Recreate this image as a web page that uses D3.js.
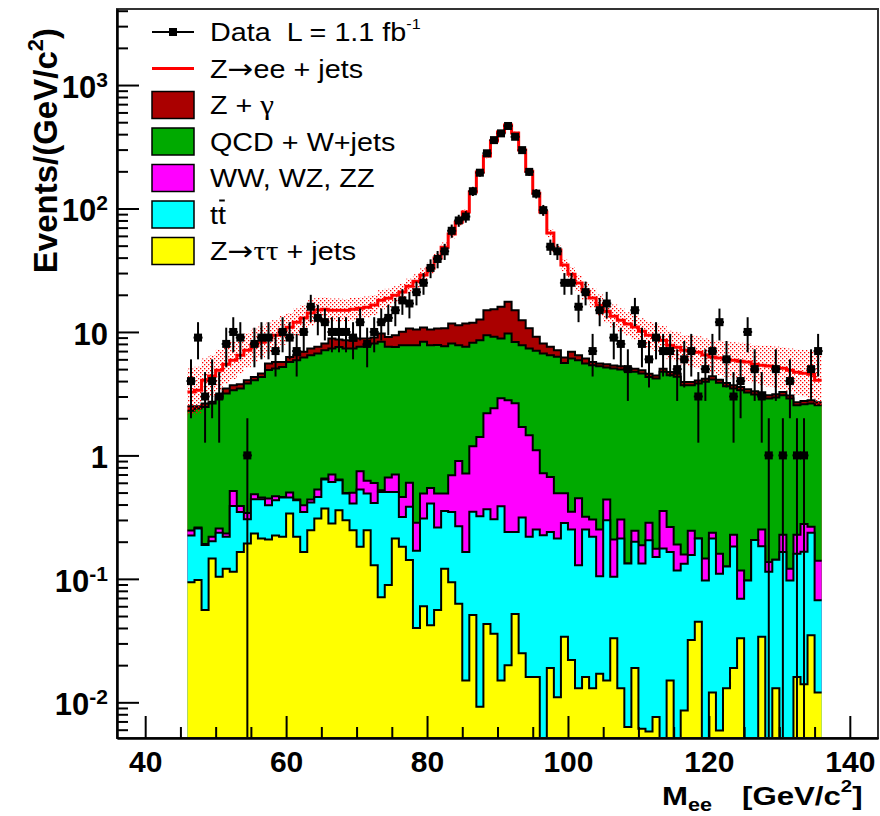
<!DOCTYPE html>
<html>
<head>
<meta charset="utf-8">
<title>Dielectron invariant mass</title>
<script src="https://cdn.jsdelivr.net/npm/d3@7/dist/d3.min.js"></script>
<style>
  html, body { margin: 0; padding: 0; background: #fff; }
  svg { display: block; }
  text { font-family: "Liberation Sans", Arial, Helvetica, sans-serif; }
</style>
</head>
<body>
<svg id="chart" width="880" height="816"></svg>
<script>
// ---------- binning: 1 GeV/c^2 bins from 46 to 136 GeV/c^2 ----------
const massLow = 46;
const binWidth = 1;
const nBins = 90;

// ---------- observed events per bin ----------
const dataCounts = [
  4, 9, 3, 4, 3, 8, 10, 9, 1, 8,
  9, 9, 7, 10, 9, 7, 10, 16, 13, 12,
  10, 10, 10, 9, 12, 8, 10, 12, 13, 15,
  18, 17, 21, 25, 33, 39, 45, 66, 80, 86,
  138, 195, 280, 358, 406, 466, 381, 297, 198, 132,
  97, 49, 45, 25, 25, 16, 21, 7, 15, 17,
  9, 8, 5, 15, 8, 6, 9, 7, 7, 5,
  6, 7, 3, 5, 7, 12, 6, 3, 4, 10,
  5, 3, 1, 5, 1, 4, 1, 1, 5, 7
];

// ---------- expected events per bin, by process (stack order, bottom to top) ----------
const zTauTau = [
  0.094, 0.098, 0.056, 0.146, 0.104, 0.121, 0.114, 0.165, 0.193, 0.233,
  0.212, 0.208, 0.225, 0.219, 0.338, 0.219, 0.165, 0.248, 0.308, 0.371,
  0.281, 0.360, 0.298, 0.248, 0.182, 0.248, 0.129, 0.071, 0.089, 0.212,
  0.182, 0.142, 0.040, 0.060, 0.042, 0.056, 0.121, 0.094, 0.063, 0.015,
  0.051, 0.0092, 0.043, 0.036, 0.015, 0.020, 0.052, 0.025, 0.016, 0.016,
  0, 0.019, 0.011, 0.034, 0.022, 0.013, 0.016, 0.013, 0.017, 0.015,
  0.033, 0.013, 0.0063, 0.019, 0.0061, 0.0058, 0.0076, 0, 0.015, 0,
  0.0086, 0.032, 0.045, 0, 0.012, 0.0059, 0.013, 0.019, 0.033, 0,
  0, 0.034, 0, 0.013, 0, 0, 0.016, 0.014, 0.035, 0.012
];
const ttbar = [
  0.131, 0.158, 0.132, 0.056, 0.132, 0.098, 0.276, 0.183, 0.111, 0.209,
  0.230, 0.187, 0.209, 0.237, 0.118, 0.215, 0.183, 0.167, 0.153, 0.267,
  0.329, 0.270, 0.193, 0.160, 0.347, 0.243, 0.283, 0.435, 0.417, 0.294,
  0.135, 0.241, 0.129, 0.248, 0.365, 0.205, 0.234, 0.254, 0.204, 0.150,
  0.298, 0.312, 0.323, 0.268, 0.373, 0.220, 0.188, 0.289, 0.203, 0.235,
  0.226, 0.221, 0.201, 0.250, 0.229, 0.116, 0.235, 0.206, 0.088, 0.284,
  0.071, 0.199, 0.127, 0.181, 0.127, 0.200, 0.143, 0.176, 0.150, 0.117,
  0.124, 0.124, 0.167, 0.097, 0.200, 0.104, 0.113, 0.164, 0.036, 0.097,
  0.206, 0.150, 0.114, 0.130, 0.165, 0.097, 0.144, 0.152, 0.201, 0.055
];
const diboson = [
  0.022, 0.005, 0.004, 0.017, 0.020, 0.014, 0.126, 0.042, 0.038, 0.043,
  0.014, 0.052, 0.033, 0.005, 0.044, 0.005, 0.047, 0.024, 0.068, 0.012,
  0.090, 0.008, 0.006, 0.090, 0.215, 0.131, 0.187, 0.016, 0.156, 0.194,
  0.144, 0.217, 0.116, 0.183, 0.138, 0.231, 0.136, 0.343, 0.636, 0.548,
  0.839, 1.090, 1.832, 2.109, 2.520, 2.562, 2.409, 1.388, 1.239, 0.851,
  0.492, 0.430, 0.282, 0.210, 0.098, 0.321, 0.067, 0.084, 0.146, 0.140,
  0.104, 0.090, 0, 0.045, 0.054, 0.079, 0.025, 0.179, 0.098, 0.073,
  0.025, 0.089, 0, 0.049, 0.024, 0.050, 0, 0.045, 0.048, 0,
  0, 0.067, 0.023, 0, 0.063, 0.024, 0.068, 0.112, 0.028, 0.073
];
const qcdWJets = [
  2.05, 2.14, 2.28, 2.42, 2.64, 2.94, 2.86, 3.09, 3.48, 3.58,
  3.87, 4.46, 4.59, 4.75, 5.22, 5.47, 5.82, 6.05, 6.17, 6.47,
  6.65, 6.93, 6.85, 6.85, 6.83, 7.19, 7.47, 7.79, 6.91, 6.87,
  7.36, 7.22, 7.53, 7.82, 7.27, 7.33, 7.18, 7.38, 6.91, 6.86,
  7.00, 7.17, 7.22, 6.71, 5.95, 6.92, 5.66, 6.11, 5.89, 5.93,
  5.98, 5.82, 5.79, 5.12, 5.75, 5.46, 5.24, 5.08, 5.03, 4.72,
  4.85, 4.67, 4.71, 4.51, 4.42, 4.04, 4.02, 4.40, 4.20, 4.14,
  3.55, 3.46, 3.61, 3.80, 3.89, 3.71, 3.51, 3.26, 3.26, 3.14,
  2.91, 2.82, 2.76, 2.80, 2.85, 2.77, 2.32, 2.32, 2.37, 2.41
];
const zGamma = [
  0.21, 0.10, 0.16, 0.08, 0.18, 0.31, 0.33, 0.29, 0.24, 0.26,
  0.28, 0.65, 0.66, 0.51, 0.56, 0.58, 0.69, 0.86, 0.88, 0.95,
  1.51, 1.12, 1.23, 1.12, 1.29, 1.04, 0.96, 1.41, 1.55, 1.85,
  2.20, 2.86, 2.66, 2.57, 2.66, 2.86, 3.06, 3.65, 3.53, 4.15,
  3.66, 4.05, 5.60, 6.17, 7.11, 7.82, 6.71, 4.64, 3.38, 2.10,
  1.37, 1.09, 0.84, 0.60, 0.80, 0.58, 0.54, 0.34, 0.27, 0.31,
  0.30, 0.30, 0.29, 0.28, 0.28, 0.26, 0.25, 0.28, 0.27, 0.26,
  0.22, 0.22, 0.23, 0.24, 0.25, 0.23, 0.22, 0.21, 0.20, 0.19,
  0.19, 0.18, 0.17, 0.18, 0.18, 0.17, 0.15, 0.16, 0.16, 0.15
];
const zeeJets = [
  0.75, 0.87, 1.43, 1.67, 1.83, 2.00, 2.20, 2.71, 3.05, 3.49,
  3.66, 3.36, 3.70, 4.62, 4.66, 5.52, 6.04, 6.86, 7.45, 7.23,
  6.16, 6.33, 6.44, 6.83, 6.73, 7.03, 7.47, 8.38, 9.66, 10.45,
  11.0, 12.8, 15.3, 18.0, 22.4, 29.0, 37.9, 50.3, 66.2, 81.8,
  124, 185, 251, 337, 400, 457, 393, 285, 190, 124,
  85.4, 55.6, 38.9, 28.6, 22.5, 18.4, 15.3, 13.1, 10.9, 9.27,
  8.07, 7.19, 6.44, 5.91, 5.26, 4.83, 4.63, 3.55, 3.08, 2.94,
  3.19, 3.06, 2.80, 2.31, 1.88, 2.04, 2.16, 2.21, 2.22, 2.27,
  2.18, 2.13, 2.22, 2.06, 1.83, 1.84, 2.02, 1.88, 1.76, 1.37
];
// relative uncertainty on the summed expectation (drawn as the dotted band)
const mcRelErr = [
  0.55, 0.55, 0.50, 0.48, 0.46, 0.44, 0.42, 0.40, 0.38, 0.36,
  0.34, 0.33, 0.32, 0.31, 0.30, 0.29, 0.28, 0.27, 0.26, 0.25,
  0.24, 0.24, 0.23, 0.23, 0.22, 0.22, 0.21, 0.20, 0.19, 0.18,
  0.17, 0.15, 0.14, 0.13, 0.11, 0.10, 0.09, 0.08, 0.07, 0.06,
  0.05, 0.05, 0.04, 0.04, 0.04, 0.04, 0.04, 0.05, 0.05, 0.06,
  0.07, 0.08, 0.10, 0.12, 0.14, 0.16, 0.18, 0.20, 0.22, 0.23,
  0.24, 0.25, 0.25, 0.26, 0.27, 0.28, 0.29, 0.30, 0.31, 0.32,
  0.33, 0.34, 0.35, 0.36, 0.37, 0.38, 0.39, 0.40, 0.41, 0.42,
  0.43, 0.44, 0.46, 0.47, 0.48, 0.50, 0.52, 0.54, 0.55, 0.58
];

// ---------- axes ----------
const xRange = [36, 144];
const yRange = [0.00514, 4130];
const xMajorTicks = [40, 60, 80, 100, 120, 140];
const xMinorTicks = [45, 50, 55, 65, 70, 75, 85, 90, 95, 105, 110, 115, 125, 130, 135];
const yMajorTicks = [0.01, 0.1, 1, 10, 100, 1000];
const yTickLabels = [["10", "-2"], ["10", "-1"], ["1", ""], ["10", ""], ["10", "2"], ["10", "3"]];

// ---------- styling ----------
const colors = {
  zTauTau: "#ffff00",
  ttbar: "#00ffff",
  diboson: "#ff00ff",
  qcdWJets: "#00aa00",
  zGamma: "#aa0000",
  zee: "#ff0000"
};

const frame = { left: 117, top: 9, right: 878, bottom: 738 };

const svg = d3.select("#chart");
const x = d3.scaleLinear().domain(xRange).range([frame.left, frame.right]);
const y = d3.scaleLog().domain(yRange).range([frame.bottom, frame.top]).clamp(true);
const yv = v => y(Math.max(v, yRange[0]));

const binEdges = d3.range(nBins + 1).map(i => massLow + i * binWidth);
const binCenters = d3.range(nBins).map(i => massLow + (i + 0.5) * binWidth);

// ---------- stacked expectation ----------
const processKeys = ["zTauTau", "ttbar", "diboson", "qcdWJets", "zGamma", "zee"];
const processValues = { zTauTau, ttbar, diboson, qcdWJets, zGamma, zee: zeeJets };
const rows = d3.range(nBins).map(i => {
  const r = {};
  processKeys.forEach(k => { r[k] = processValues[k][i]; });
  return r;
});
const stacked = d3.stack().keys(processKeys)(rows);
const totalMC = stacked[stacked.length - 1].map(d => d[1]);

const defs = svg.append("defs");
defs.append("clipPath").attr("id", "plotClip")
  .append("rect")
  .attr("x", frame.left).attr("y", frame.top)
  .attr("width", frame.right - frame.left).attr("height", frame.bottom - frame.top);

const dots = defs.append("pattern").attr("id", "mcErrDots")
  .attr("patternUnits", "userSpaceOnUse").attr("width", 4).attr("height", 4);
dots.append("rect").attr("x", 0).attr("y", 0).attr("width", 1.3).attr("height", 1.3).attr("fill", colors.zee);
dots.append("rect").attr("x", 2).attr("y", 2).attr("width", 1.3).attr("height", 1.3).attr("fill", colors.zee);

svg.append("rect").attr("width", 880).attr("height", 816).attr("fill", "#fff");

const plot = svg.append("g").attr("clip-path", "url(#plotClip)");

// histogram stairs: each bin contributes two points (low edge, high edge)
function stairs(lo, hi) {
  const pts = [];
  for (let i = 0; i < nBins; i++) {
    pts.push([binEdges[i], lo[i], hi[i]]);
    pts.push([binEdges[i + 1], lo[i], hi[i]]);
  }
  return pts;
}
const stepArea = d3.area().x(d => x(d[0])).y0(d => yv(d[1])).y1(d => yv(d[2]));
const stepLine = d3.line().x(d => x(d[0])).y(d => yv(d[2]));
const floor = new Array(nBins).fill(yRange[0]);

// filled processes, drawn from the largest cumulative level downwards
for (let k = processKeys.length - 2; k >= 0; k--) {
  const key = processKeys[k];
  const top = stacked[k].map(d => d[1]);
  const pts = stairs(floor, top);
  plot.append("path").attr("d", stepArea(pts)).attr("fill", colors[key]).attr("stroke", "none");
  plot.append("path").attr("d", stepLine(pts)).attr("fill", "none")
    .attr("stroke", "#000").attr("stroke-width", 2).attr("stroke-linejoin", "miter");
}

// uncertainty band on the total expectation
const bandLo = totalMC.map((t, i) => t / (1 + mcRelErr[i]));
const bandHi = totalMC.map((t, i) => t * (1 + mcRelErr[i]));
plot.append("path").attr("d", stepArea(stairs(bandLo, bandHi))).attr("fill", "url(#mcErrDots)");

// total expectation (Z->ee on top of the stack)
plot.append("path").attr("d", stepLine(stairs(floor, totalMC)))
  .attr("fill", "none").attr("stroke", colors.zee).attr("stroke-width", 3);

// data with Poisson errors
const dataG = plot.append("g");
dataCounts.forEach((n, i) => {
  const cx = x(binCenters[i]);
  const err = Math.sqrt(n);
  dataG.append("line").attr("x1", cx).attr("x2", cx)
    .attr("y1", yv(n - err)).attr("y2", yv(n + err))
    .attr("stroke", "#000").attr("stroke-width", 2);
  dataG.append("line").attr("x1", x(binEdges[i]) - 1).attr("x2", x(binEdges[i + 1]) + 1)
    .attr("y1", yv(n)).attr("y2", yv(n))
    .attr("stroke", "#000").attr("stroke-width", 2);
  dataG.append("rect").attr("x", cx - 4).attr("y", yv(n) - 4)
    .attr("width", 8).attr("height", 8).attr("fill", "#000");
});

// ---------- frame and axes ----------
svg.append("rect")
  .attr("x", frame.left).attr("y", frame.top)
  .attr("width", frame.right - frame.left).attr("height", frame.bottom - frame.top)
  .attr("fill", "none").attr("stroke", "#333").attr("stroke-width", 2);

function styleAxis(g) {
  g.select(".domain").attr("stroke", "#000").attr("stroke-width", 2);
  g.selectAll(".tick line").attr("stroke", "#000").attr("stroke-width", 2);
  g.selectAll(".tick text").attr("fill", "#000").attr("font-weight", "bold")
    .attr("font-family", "'Liberation Sans', Arial, sans-serif");
}

const xAxisMinor = svg.append("g").attr("transform", `translate(0,${frame.bottom})`)
  .call(d3.axisBottom(x).tickValues(xMinorTicks).tickSize(-11).tickSizeOuter(0).tickFormat(""));
styleAxis(xAxisMinor);
const xAxisMajor = svg.append("g").attr("transform", `translate(0,${frame.bottom})`)
  .call(d3.axisBottom(x).tickValues(xMajorTicks).tickSize(-22).tickSizeOuter(0)
    .tickPadding(13).tickFormat(d3.format("d")));
styleAxis(xAxisMajor);
xAxisMajor.selectAll(".tick text").attr("font-size", 30);

const yMinorTicks = [];
for (let e = -3; e <= 3; e++) {
  for (let m = 2; m <= 9; m++) {
    const v = m * Math.pow(10, e);
    if (v > yRange[0] && v < yRange[1]) yMinorTicks.push(v);
  }
}
const yAxisMinor = svg.append("g").attr("transform", `translate(${frame.left},0)`)
  .call(d3.axisLeft(y).tickValues(yMinorTicks).tickSize(-11).tickSizeOuter(0).tickFormat(""));
styleAxis(yAxisMinor);
const yAxisMajor = svg.append("g").attr("transform", `translate(${frame.left},0)`)
  .call(d3.axisLeft(y).tickValues(yMajorTicks).tickSize(-22).tickSizeOuter(0).tickPadding(9));
styleAxis(yAxisMajor);
yAxisMajor.selectAll(".tick text").each(function (d) {
  const t = d3.select(this);
  const lab = yTickLabels[yMajorTicks.indexOf(d)];
  t.text(null).attr("font-size", 31).attr("dy", "0.4em");
  t.append("tspan").text(lab[0]);
  if (lab[1]) t.append("tspan").attr("font-size", 21).attr("dy", -11).text(lab[1]);
});

// axis titles
const yTitle = svg.append("text")
  .attr("transform", "translate(57,28) rotate(-90)")
  .attr("text-anchor", "end").attr("font-weight", "bold").attr("font-size", 33).attr("fill", "#000");
yTitle.append("tspan").text("Events/(GeV/c");
yTitle.append("tspan").attr("font-size", 22).attr("dy", -14).text("2");
yTitle.append("tspan").attr("dy", 14).text(")");

const xTitle = svg.append("text")
  .attr("transform", "translate(662,805) scale(1.2,1)")
  .attr("font-weight", "bold").attr("font-size", 26).attr("fill", "#000");
xTitle.append("tspan").text("M");
xTitle.append("tspan").attr("font-size", 18).attr("dy", 6).text("ee");
xTitle.append("tspan").attr("dy", -6).attr("dx", 25).text("[GeV/c");
xTitle.append("tspan").attr("font-size", 17).attr("dy", -13).text("2");
xTitle.append("tspan").attr("dy", 13).text("]");

// ---------- legend ----------
const legendEntries = [
  { kind: "data", parts: [["Data  L = 1.1 fb"], ["-1", "sup"]] },
  { kind: "line", color: colors.zee, parts: [["Z"], ["\u2192", "sym"], ["ee + jets"]] },
  { kind: "box", color: colors.zGamma, parts: [["Z + "], ["\u03b3", "greek"]] },
  { kind: "box", color: colors.qcdWJets, parts: [["QCD + W+jets"]] },
  { kind: "box", color: colors.diboson, parts: [["WW, WZ, ZZ"]] },
  { kind: "box", color: colors.ttbar, parts: [["tt"]], antiquarkBar: true },
  { kind: "box", color: colors.zTauTau, parts: [["Z"], ["\u2192", "sym"], ["\u03c4\u03c4", "greek"], [" + jets"]] }
];
const legend = svg.append("g");
const symX0 = 152, symX1 = 194, textX = 210, rowStep = 36.5, firstRow = 32;
legendEntries.forEach((entry, k) => {
  const cy = firstRow + k * rowStep;
  if (entry.kind === "data") {
    legend.append("line").attr("x1", symX0).attr("x2", symX1).attr("y1", cy).attr("y2", cy)
      .attr("stroke", "#000").attr("stroke-width", 2);
    legend.append("rect").attr("x", (symX0 + symX1) / 2 - 4).attr("y", cy - 4)
      .attr("width", 8).attr("height", 8).attr("fill", "#000");
  } else if (entry.kind === "line") {
    legend.append("line").attr("x1", symX0).attr("x2", symX1).attr("y1", cy).attr("y2", cy)
      .attr("stroke", entry.color).attr("stroke-width", 3);
  } else {
    legend.append("rect").attr("x", symX0).attr("y", cy - 13.5)
      .attr("width", symX1 - symX0).attr("height", 27)
      .attr("fill", entry.color).attr("stroke", "#000").attr("stroke-width", 1.5);
  }
  const g = legend.append("g").attr("transform", `translate(${textX},${cy + 9}) scale(1.15,1)`);
  const txt = g.append("text").attr("font-size", 25).attr("fill", "#000").style("white-space", "pre");
  entry.parts.forEach(([s, role]) => {
    const ts = txt.append("tspan").text(s);
    if (role === "sup") ts.attr("font-size", 14).attr("dy", -12);
    if (role === "greek") ts.attr("font-family", "'Liberation Serif', 'Times New Roman', serif").attr("font-size", 27);
    if (role === "sym") ts.attr("font-family", "'DejaVu Sans', sans-serif").attr("font-size", 27);
  });
  if (entry.antiquarkBar) {
    const node = txt.node();
    const x0 = node.getSubStringLength(0, 1);
    const w = node.getSubStringLength(1, 1);
    g.append("line").attr("x1", x0 + w * 0.15).attr("x2", x0 + w * 0.85)
      .attr("y1", -23).attr("y2", -23).attr("stroke", "#000").attr("stroke-width", 2);
  }
});
</script>
</body>
</html>
